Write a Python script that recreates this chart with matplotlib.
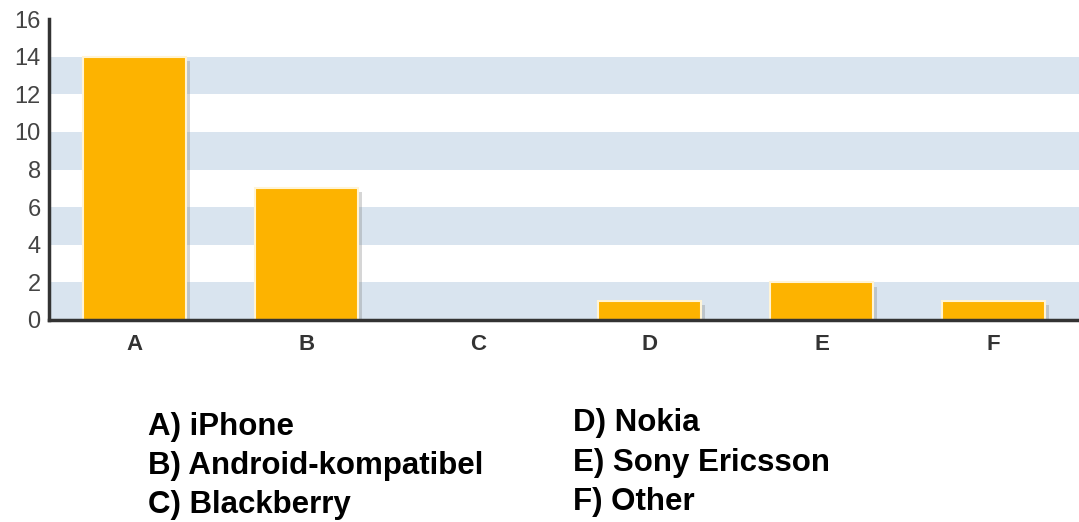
import matplotlib
matplotlib.use("Agg")
import matplotlib.pyplot as plt
import matplotlib.patheffects as pe

categories = ["A", "B", "C", "D", "E", "F"]
values = [14, 7, 0, 1, 2, 1]
legend_left = ["A) iPhone", "B) Android-kompatibel", "C) Blackberry"]
legend_right = ["D) Nokia", "E) Sony Ericsson", "F) Other"]
yticks = [0, 2, 4, 6, 8, 10, 12, 14, 16]

plt.rcParams['font.family'] = ['Liberation Sans', 'DejaVu Sans']

W, H = 1079, 522
fig = plt.figure(figsize=(W / 100, H / 100), dpi=100)
ax = fig.add_axes([49 / W, (H - 320) / H, (1079 - 49) / W, (320 - 19) / H])

# alternating bands
for lo in range(0, 16, 4):
    ax.axhspan(lo, lo + 2, color="#d9e4ef", zorder=0, lw=0)

xs = list(range(len(categories)))
bars = ax.bar(xs, values, width=0.6, color="#fdb300", edgecolor="#fff4d6",
              linewidth=1.5, zorder=3)
for b in bars:
    if b.get_height() > 0:
        b.set_path_effects([pe.SimplePatchShadow(offset=(3, -3), shadow_rgbFace="#7a7a7a", alpha=0.3),
                            pe.Normal()])

ax.set_xlim(-0.5, 5.5)
ax.set_ylim(0, 16)
ax.set_yticks(yticks)
ax.set_yticklabels([str(v) for v in yticks], fontsize=17, color="#444444")
ax.set_xticks(xs)
ax.set_xticklabels(categories, fontsize=16, fontweight="bold", color="#333333")
ax.tick_params(axis="both", length=0)
ax.tick_params(axis="y", pad=6)
ax.tick_params(axis="x", pad=10)

for s in ["top", "right"]:
    ax.spines[s].set_visible(False)
for s in ["left", "bottom"]:
    ax.spines[s].set_color("#333333")
    ax.spines[s].set_linewidth(2.5)
    ax.spines[s].set_zorder(4)

ys_left = [427, 466, 505]
ys_right = [423, 463, 502]
for t, y in zip(legend_left, ys_left):
    fig.text(148 / W, 1 - y / H, t, fontsize=22.5, fontweight="bold", va="center", ha="left", color="black")
for t, y in zip(legend_right, ys_right):
    fig.text(573 / W, 1 - y / H, t, fontsize=22.5, fontweight="bold", va="center", ha="left", color="black")

fig.savefig("out.png", dpi=100)
